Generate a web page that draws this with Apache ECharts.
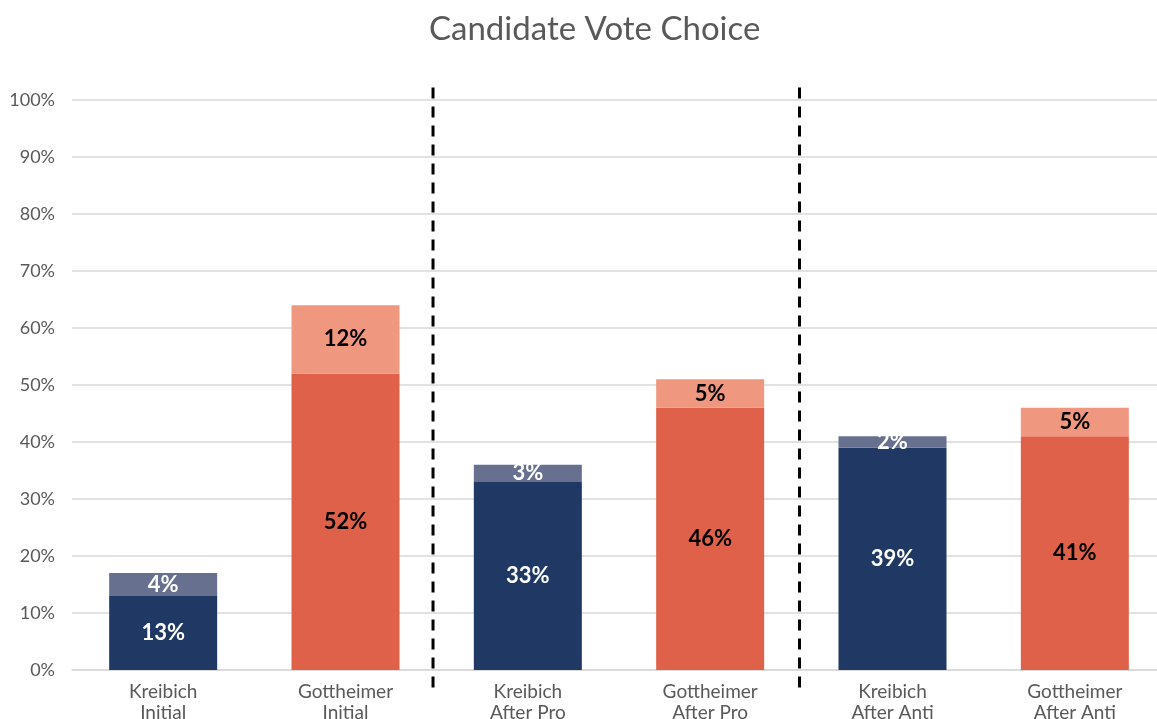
<!DOCTYPE html>
<html>
<head>
<meta charset="utf-8">
<script src="https://cdn.jsdelivr.net/npm/echarts@6/dist/echarts.min.js"></script>
<style>
html, body { margin: 0; padding: 0; background: #fff; }
#chart { width: 1157px; height: 719px; }
</style>
</head>
<body>
<div id="chart"></div>
<script>
// data
var categories = ['Kreibich\nInitial', 'Gottheimer\nInitial', 'Kreibich\nAfter Pro', 'Gottheimer\nAfter Pro', 'Kreibich\nAfter Anti', 'Gottheimer\nAfter Anti'];
var baseValues = [13, 52, 33, 46, 39, 41];
var topValues = [4, 12, 3, 5, 2, 5];
var yTicks = [0, 10, 20, 30, 40, 50, 60, 70, 80, 90, 100];
var dividers = [1.48, 3.49];

var darkCol = ['#203864', '#e0614a'];
var lightCol = ['#67708f', '#f0977f'];
var labelCol = ['#ffffff', '#000000'];

function items(vals, cols) {
	return vals.map(function (v, i) {
		var k = i % 2;
		return {
			value: v,
			itemStyle: { color: cols[k] },
			label: { color: labelCol[k] }
		};
	});
}

var myChart = echarts.init(document.getElementById('chart'));
var fontFam = 'Lato, "Open Sans", sans-serif';

var barLabel = {
	show: true,
	position: 'inside',
	fontSize: 22,
	fontWeight: 'bold',
	formatter: '{c}%'
};

var series = [
	{
		type: 'bar',
		stack: 'v',
		barWidth: 108,
		data: items(baseValues, darkCol),
		label: barLabel
	},
	{
		type: 'bar',
		stack: 'v',
		barWidth: 108,
		data: items(topValues, lightCol),
		label: barLabel
	}
];

// dashed dividers, drawn on a hidden value axis that lines up with the categories
dividers.forEach(function (d) {
	series.push({
		type: 'line',
		xAxisIndex: 1,
		yAxisIndex: 1,
		clip: false,
		silent: true,
		symbol: 'none',
		lineStyle: { color: '#000', type: [11, 8], width: 3 },
		data: [[d, 102.2], [d, -3.2]]
	});
});

var option = {
	animation: false,
	textStyle: { fontFamily: fontFam },
	title: {
		text: 'Candidate Vote Choice',
		left: 424,
		top: 8,
		textStyle: { fontSize: 33, fontWeight: 'normal', color: '#595959', fontFamily: fontFam }
	},
	grid: {
		left: 72,
		right: -9,
		top: 100,
		bottom: 49,
		outerBoundsMode: 'none'
	},
	xAxis: [{
		type: 'category',
		data: categories,
		axisTick: { show: false },
		axisLine: { lineStyle: { color: '#d9d9d9', width: 1.5 } },
		axisLabel: { color: '#595959', fontSize: 19, lineHeight: 21, margin: 11 }
	}, {
		type: 'value',
		min: -0.5,
		max: 5.5,
		show: false,
		axisLine: { show: false, onZero: false },
		splitLine: { show: false }
	}],
	yAxis: [{
		type: 'value',
		min: 0,
		max: 100,
		interval: 10,
		axisLine: { show: false, onZero: false },
		axisTick: { show: false },
		axisLabel: {
			color: '#595959',
			fontSize: 18,
			margin: 17,
			formatter: function (v) { return yTicks.indexOf(v) >= 0 ? v + '%' : ''; }
		},
		splitLine: { lineStyle: { color: '#d9d9d9', width: 1.5 } }
	}, {
		type: 'value',
		min: 0,
		max: 100,
		show: false,
		axisLine: { show: false, onZero: false },
		splitLine: { show: false }
	}],
	series: series
};

myChart.setOption(option);
</script>
</body>
</html>
